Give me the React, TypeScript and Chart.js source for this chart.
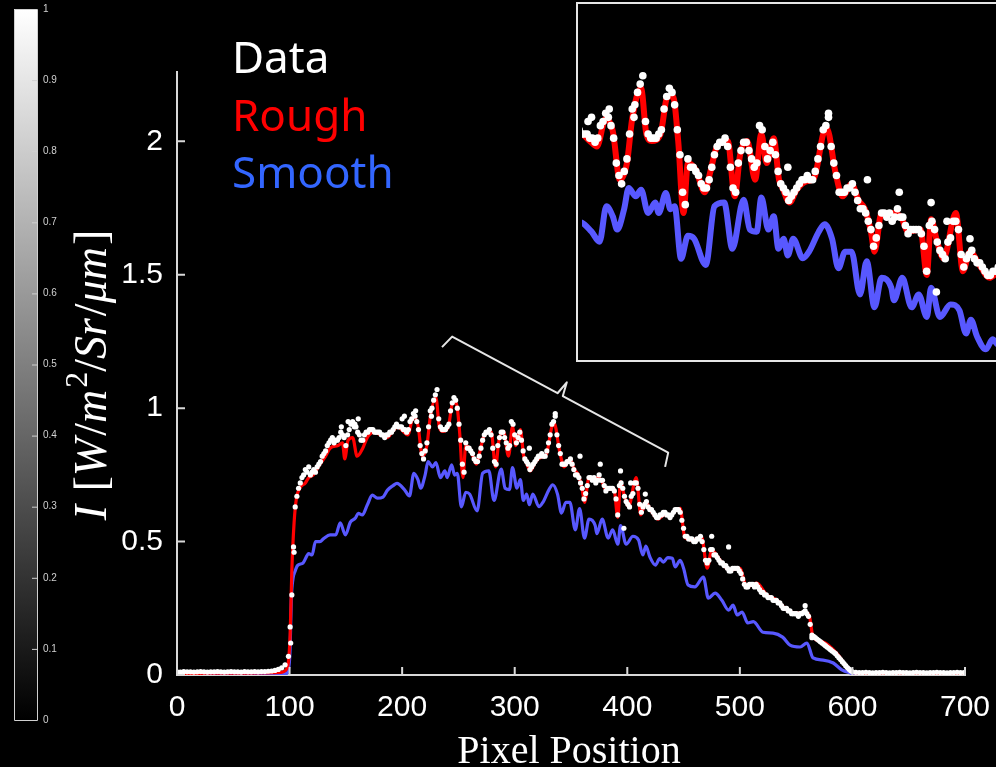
import React, { useEffect, useRef } from "react";
import { Chart, registerables } from "chart.js";

Chart.register(...registerables);

// ---------- data ----------
const roughX = [0, 20, 40, 60, 80, 92, 97, 99, 100.5, 102, 104, 106, 109, 114, 117, 121, 127, 132, 136, 143, 147, 149, 152, 156, 160, 165, 169, 175, 181, 187, 191, 196, 201, 205, 210, 214, 218, 222, 225, 230, 233, 236, 241, 245, 248, 251, 254, 256.5, 261, 266, 269, 273, 279, 283, 286, 290, 294.5, 298, 301, 305, 308, 310, 314, 318, 323, 328, 333, 335, 340, 344, 349, 353, 356.5, 360, 362, 366, 371.5, 377, 381, 388, 391.6, 394, 397, 401, 408, 412, 416, 421.5, 427, 433, 438, 444, 447, 451, 458.6, 466, 471, 475, 482.5, 491, 500, 506, 515, 524, 533, 542, 551, 558, 562, 565, 574, 586, 595, 598, 602, 620, 700];
const roughY = [0.006, 0.006, 0.007, 0.007, 0.008, 0.01, 0.02, 0.05, 0.15, 0.39, 0.57, 0.66, 0.70, 0.72, 0.74, 0.75, 0.79, 0.82, 0.85, 0.86, 0.87, 0.81, 0.88, 0.89, 0.82, 0.85, 0.89, 0.91, 0.90, 0.89, 0.91, 0.93, 0.913, 0.90, 0.967, 0.937, 0.82, 0.86, 0.967, 1.04, 0.93, 0.913, 0.93, 1.02, 1.02, 0.913, 0.74, 0.86, 0.843, 0.79, 0.836, 0.90, 0.913, 0.78, 0.88, 0.913, 0.82, 0.93, 0.86, 0.92, 0.82, 0.80, 0.765, 0.796, 0.815, 0.826, 0.93, 0.944, 0.836, 0.78, 0.81, 0.77, 0.75, 0.695, 0.647, 0.74, 0.74, 0.73, 0.695, 0.70, 0.591, 0.725, 0.678, 0.631, 0.74, 0.60, 0.647, 0.614, 0.584, 0.60, 0.60, 0.62, 0.625, 0.517, 0.506, 0.517, 0.40, 0.468, 0.43, 0.393, 0.40, 0.33, 0.344, 0.30, 0.28, 0.243, 0.232, 0.236, 0.217, 0.142, 0.124, 0.082, 0.03, 0.019, 0.008, 0.005, 0.005];

const smoothX = [0, 60, 90, 97, 99, 100.5, 101.5, 103, 105, 107, 112, 117, 120, 123, 127, 130, 136, 141, 145, 149.6, 154, 158.5, 161, 164.6, 169, 173.5, 178, 183, 187, 192, 195.4, 202, 206.5, 210.4, 214, 216.5, 220.4, 223, 227, 230, 234, 238, 240, 244, 246.6, 249, 252.6, 256.5, 260, 266.6, 271.5, 277, 281.6, 288, 291.5, 295.4, 298, 302, 305, 307.7, 310.6, 313, 316, 321.5, 325, 330.5, 333.8, 338, 341.6, 345.4, 349, 353.8, 357.6, 362, 366, 371.5, 373, 377.7, 383, 387, 391.6, 394, 399, 405, 410, 413.8, 416.5, 420, 425, 428.8, 432, 436, 440, 442.5, 447, 450, 454, 460, 467.6, 472, 478, 484, 490, 494, 497.6, 502, 507, 512, 520.6, 529.5, 538, 544.6, 553.5, 559.6, 565, 574, 583, 590.6, 598, 605, 700];
const smoothY = [0.0, 0.001, 0.002, 0.005, 0.02, 0.1, 0.28, 0.36, 0.39, 0.41, 0.42, 0.455, 0.45, 0.50, 0.50, 0.51, 0.525, 0.525, 0.57, 0.525, 0.573, 0.588, 0.606, 0.60, 0.637, 0.674, 0.663, 0.667, 0.693, 0.71, 0.718, 0.695, 0.671, 0.756, 0.732, 0.70, 0.749, 0.80, 0.78, 0.796, 0.74, 0.765, 0.74, 0.788, 0.749, 0.756, 0.63, 0.685, 0.678, 0.615, 0.756, 0.765, 0.654, 0.772, 0.70, 0.695, 0.777, 0.70, 0.732, 0.654, 0.678, 0.638, 0.678, 0.631, 0.647, 0.695, 0.713, 0.678, 0.607, 0.647, 0.647, 0.544, 0.624, 0.513, 0.584, 0.56, 0.53, 0.584, 0.513, 0.544, 0.49, 0.56, 0.49, 0.52, 0.506, 0.45, 0.483, 0.443, 0.412, 0.436, 0.423, 0.44, 0.438, 0.405, 0.43, 0.40, 0.337, 0.33, 0.367, 0.288, 0.307, 0.28, 0.243, 0.262, 0.225, 0.236, 0.195, 0.20, 0.16, 0.157, 0.142, 0.112, 0.105, 0.12, 0.064, 0.056, 0.045, 0.019, 0.008, 0.002, 0.0];

// measured samples, one every 3 pixel positions starting at 0
const dataStart = 0;
const dataStep = 3;
const dataY = [
  0.012, 0.011, 0.013, 0.012, 0.012, 0.011, 0.012, 0.013, 0.012, 0.011,
  0.012, 0.012, 0.013, 0.012, 0.011, 0.012, 0.013, 0.012, 0.012, 0.011,
  0.013, 0.012, 0.012, 0.013, 0.012, 0.013, 0.013, 0.014,
  0.015, 0.017, 0.021, 0.027, 0.038,
  0.07, 0.30, 0.63, 0.70, 0.74, 0.77, 0.78, 0.76, 0.76, 0.79,
  0.82, 0.84, 0.87, 0.89, 0.88, 0.89, 0.90, 0.86, 0.92, 0.95,
  0.93, 0.90, 0.88, 0.91, 0.92, 0.92, 0.91, 0.91, 0.90, 0.90,
  0.91, 0.92, 0.94, 0.93, 0.92, 0.91, 0.95, 0.98, 0.95, 0.86,
  0.81, 0.87, 0.99, 1.03, 1.07, 0.93, 0.92, 0.93, 0.99, 1.04,
  1.00, 0.88, 0.76, 0.85, 0.84, 0.81, 0.80, 0.85, 0.90, 0.91,
  0.90, 0.80, 0.86, 0.91, 0.89, 0.85, 0.95, 0.90, 0.89, 0.88,
  0.81, 0.79, 0.78, 0.80, 0.82, 0.83, 0.82, 0.87, 0.94, 0.98,
  0.86, 0.79, 0.79, 0.80, 0.79, 0.75, 0.74, 0.70, 0.68, 0.74,
  0.73, 0.72, 0.75, 0.73, 0.69, 0.70, 0.70, 0.66, 0.71, 0.70,
  0.65, 0.63, 0.68, 0.72, 0.64, 0.63, 0.65, 0.62, 0.61, 0.59,
  0.60, 0.61, 0.60, 0.59, 0.61, 0.62, 0.61, 0.55, 0.52, 0.51,
  0.50, 0.51, 0.52, 0.47, 0.42, 0.47, 0.45, 0.44, 0.42, 0.41,
  0.40, 0.39, 0.40, 0.40, 0.38, 0.34, 0.33, 0.34, 0.33, 0.33,
  0.31, 0.30, 0.29, 0.29, 0.28, 0.27, 0.26, 0.25, 0.24, 0.23,
  0.23, 0.22, 0.23, 0.24, 0.22, 0.15, 0.14, 0.13, 0.12, 0.11,
  0.10, 0.09, 0.08, 0.065, 0.05, 0.035, 0.022, 0.012,
  0.010, 0.009, 0.009, 0.010, 0.009, 0.008, 0.009, 0.009, 0.010, 0.009,
  0.008, 0.009, 0.009, 0.010, 0.009, 0.009, 0.008, 0.009, 0.010, 0.009,
  0.009, 0.008, 0.009, 0.009, 0.010, 0.009, 0.009, 0.008, 0.009, 0.009,
  0.010, 0.009, 0.009,
];
// interleaved samples, one every 3 pixel positions starting at 100.5
const dataMidStart = 100.5;
const dataMidY = [
  0.18, 0.48, 0.67, 0.72, 0.75, 0.76, 0.75, 0.77, 0.78, 0.80,
  0.83, 0.86, 0.88, 0.87, 0.88, 0.91, 0.89, 0.90, 0.94, 0.93,
  0.91, 0.88, 0.90, 0.91, 0.92, 0.91, 0.91, 0.90, 0.89, 0.90,
  0.91, 0.93, 0.93, 0.93, 0.92, 0.92, 0.96, 0.97, 0.92, 0.83,
  0.84, 0.93, 1.00, 1.05, 0.96, 0.92, 0.92, 0.94, 1.02, 1.03,
  0.94, 0.79, 0.87, 0.85, 0.83, 0.80, 0.82, 0.88, 0.91, 0.92,
  0.85, 0.79, 0.89, 0.91, 0.87, 0.86, 0.94, 0.87, 0.91, 0.84,
  0.80, 0.77, 0.79, 0.81, 0.82, 0.82, 0.84, 0.90, 0.95, 0.90,
  0.83, 0.79, 0.80, 0.81, 0.77, 0.75, 0.72, 0.66, 0.71, 0.74,
  0.74, 0.73, 0.73, 0.71, 0.70, 0.70, 0.69, 0.60, 0.72, 0.67,
  0.64, 0.67, 0.72, 0.70, 0.61, 0.64, 0.63, 0.62, 0.60, 0.59,
  0.60, 0.61, 0.60, 0.60, 0.62, 0.62, 0.58, 0.52, 0.51, 0.51,
  0.50, 0.51, 0.50, 0.43, 0.43, 0.47, 0.45, 0.43, 0.42, 0.41,
  0.39, 0.40, 0.40, 0.39, 0.36, 0.33, 0.34, 0.34, 0.34, 0.32,
  0.31, 0.30, 0.29, 0.28, 0.28, 0.27, 0.25, 0.25, 0.24, 0.23,
  0.23, 0.23, 0.235, 0.23, 0.19, 0.145, 0.135, 0.125, 0.115, 0.105,
  0.095, 0.085, 0.072, 0.058, 0.043, 0.028, 0.016,
];
// extra (off-line) measured samples
const dataExtraX = [101, 104, 146, 152, 158, 161, 200, 202, 212, 226, 313, 336, 358, 376, 394, 397, 403, 416, 475, 490, 558, 564];
const dataExtraY = [0.12, 0.46, 0.93, 0.95, 0.94, 0.96, 0.96, 0.97, 0.99, 0.97, 0.85, 0.97, 0.82, 0.79, 0.765, 0.55, 0.72, 0.678, 0.52, 0.48, 0.26, 0.14];

const xTicks = [0, 100, 200, 300, 400, 500, 600, 700];
const yTicks = [0, 0.5, 1, 1.5, 2];
const colorbarTicks = [0, 0.1, 0.2, 0.3, 0.4, 0.5, 0.6, 0.7, 0.8, 0.9, 1];
const legendLabels = ["Data", "Rough", "Smooth"];
const legendColors = ["#ffffff", "#ff0000", "#3366ff"];
const xTitle = "Pixel Position";
// zoom window and bracket (data coordinates)
const insetXRange = [196.6, 452.2];
const insetYRange = [0.396, 1.233];
const braceFrom = [235.4, 1.229];
const braceTo = [433.6, 0.78];

// ---------- helpers ----------
const AXIS = "#d9d9d9";
const RED = "#ff0000";
const BLUE = "#5858ff";

const toPts = (xs: number[], ys: number[]) => xs.map((x, i) => ({ x, y: ys[i] }));
const dataPts = () =>
  dataY
    .map((y, i) => ({ x: dataStart + i * dataStep, y }))
    .concat(dataMidY.map((y, i) => ({ x: dataMidStart + i * dataStep, y })))
    .concat(toPts(dataExtraX, dataExtraY));

function drawYTitle(ctx: CanvasRenderingContext2D, cy: number, baseX: number) {
  const size = 46;
  const fam = '"Liberation Serif", "DejaVu Serif", serif';
  const runs: { t: string; it?: boolean; sup?: boolean }[] = [
    { t: "I", it: true },
    { t: " [" },
    { t: "W", it: true },
    { t: "/" },
    { t: "m", it: true },
    { t: "2", sup: true },
    { t: "/" },
    { t: "Sr", it: true },
    { t: "/" },
    { t: "μm", it: true },
    { t: "]" },
  ];
  const fontOf = (r: any) =>
    r.sup ? `${Math.round(size * 0.7)}px ${fam}` : `${r.it ? "italic " : ""}${size}px ${fam}`;
  let total = 0;
  const widths = runs.map((r) => {
    ctx.font = fontOf(r);
    const w = ctx.measureText(r.t).width + (r.it ? 2 : 0);
    total += w;
    return w;
  });
  ctx.save();
  ctx.translate(baseX, cy);
  ctx.rotate(-Math.PI / 2);
  ctx.fillStyle = "#ffffff";
  ctx.textBaseline = "alphabetic";
  ctx.textAlign = "left";
  let x = -total / 2;
  runs.forEach((r, i) => {
    ctx.font = fontOf(r);
    ctx.fillText(r.t, x, r.sup ? -size * 0.42 : 0);
    x += widths[i];
  });
  ctx.restore();
}

const decorPlugin = {
  id: "decor",
  afterDraw(chart: any) {
    const ctx: CanvasRenderingContext2D = chart.ctx;
    const xs = chart.scales.x;
    const ys = chart.scales.y;
    const { left, bottom } = chart.chartArea;
    ctx.save();

    // inward tick marks
    ctx.strokeStyle = AXIS;
    ctx.lineWidth = 2;
    ctx.beginPath();
    xTicks.forEach((v) => {
      const px = xs.getPixelForValue(v);
      ctx.moveTo(px, bottom);
      ctx.lineTo(px, bottom - 8);
    });
    yTicks.forEach((v) => {
      const py = ys.getPixelForValue(v);
      ctx.moveTo(left, py);
      ctx.lineTo(left + 8, py);
    });
    ctx.stroke();

    // bracket
    const p1 = [xs.getPixelForValue(braceFrom[0]), ys.getPixelForValue(braceFrom[1])];
    const p2 = [xs.getPixelForValue(braceTo[0]), ys.getPixelForValue(braceTo[1])];
    const L = Math.hypot(p2[0] - p1[0], p2[1] - p1[1]);
    const d = [(p2[0] - p1[0]) / L, (p2[1] - p1[1]) / L];
    const n = [d[1], -d[0]];
    const h = 14;
    const mid = [(p1[0] + p2[0]) / 2, (p1[1] + p2[1]) / 2];
    const P = (b: number[], a: number, c: number) => [b[0] + n[0] * a + d[0] * c, b[1] + n[1] * a + d[1] * c];
    const pts = [p1, P(p1, h, 4), P(mid, h, -3), P(mid, 2 * h, 0), P(mid, h, 3), P(p2, h, -4), p2];
    ctx.strokeStyle = "#e6e6e6";
    ctx.lineWidth = 2;
    ctx.lineJoin = "round";
    ctx.beginPath();
    pts.forEach((p, i) => (i ? ctx.lineTo(p[0], p[1]) : ctx.moveTo(p[0], p[1])));
    ctx.stroke();

    // legend text
    ctx.font = '44px "Noto Sans", "Open Sans", sans-serif';
    ctx.textAlign = "left";
    ctx.textBaseline = "alphabetic";
    legendLabels.forEach((t, i) => {
      ctx.fillStyle = legendColors[i];
      ctx.fillText(t, 232, 73 + i * 57.5);
    });

    // x title
    ctx.font = '40px "Liberation Serif", "DejaVu Serif", serif';
    ctx.fillStyle = "#ffffff";
    ctx.textAlign = "center";
    ctx.fillText(xTitle, 569, 763);

    // y title
    drawYTitle(ctx, 375, 106);

    // colorbar
    const cbL = 14, cbR = 37, cbT = 9, cbB = 720;
    const g = ctx.createLinearGradient(0, cbT, 0, cbB);
    g.addColorStop(0, "#ffffff");
    g.addColorStop(1, "#000000");
    ctx.fillStyle = g;
    ctx.fillRect(cbL, cbT, cbR - cbL, cbB - cbT);
    ctx.strokeStyle = "#d0d0d0";
    ctx.lineWidth = 1;
    ctx.strokeRect(cbL + 0.5, cbT + 0.5, cbR - cbL, cbB - cbT);
    ctx.font = '10px "Liberation Sans", Arial, sans-serif';
    ctx.fillStyle = "#d0d0d0";
    ctx.textAlign = "left";
    ctx.textBaseline = "middle";
    ctx.beginPath();
    colorbarTicks.forEach((v) => {
      const y = cbB - v * (cbB - cbT);
      ctx.moveTo(cbR, y + 0.5);
      ctx.lineTo(cbR - 5, y + 0.5);
      ctx.fillText(String(v), cbR + 6, y);
    });
    ctx.stroke();

    ctx.restore();
  },
};

const tickFont = { family: '"Liberation Sans", Arial, sans-serif', size: 30 };

export default function App() {
  const mainRef = useRef<HTMLCanvasElement>(null);
  const insetRef = useRef<HTMLCanvasElement>(null);

  useEffect(() => {
    const mk = (lw: number, r: number) => [
      {
        label: legendLabels[0],
        data: dataPts(),
        showLine: false,
        pointRadius: r,
        pointBackgroundColor: "#ffffff",
        pointBorderWidth: 0,
        order: 0,
      },
      {
        label: legendLabels[1],
        data: toPts(roughX, roughY),
        showLine: true,
        borderColor: RED,
        borderWidth: lw,
        pointRadius: 0,
        cubicInterpolationMode: "monotone",
        order: 1,
      },
      {
        label: legendLabels[2],
        data: toPts(smoothX, smoothY),
        showLine: true,
        borderColor: BLUE,
        borderWidth: lw,
        pointRadius: 0,
        cubicInterpolationMode: "monotone",
        order: 2,
      },
    ];

    const main = new Chart(mainRef.current as HTMLCanvasElement, {
      type: "scatter",
      data: { datasets: mk(3.2, 2.6) as any },
      options: {
        animation: false,
        responsive: false,
        maintainAspectRatio: false,
        layout: { padding: { top: 72, right: 31, left: 0, bottom: 0 } },
        plugins: { legend: { display: false }, tooltip: { enabled: false } },
        scales: {
          x: {
            type: "linear",
            min: 0,
            max: 700,
            afterBuildTicks: (s: any) => {
              s.ticks = xTicks.map((value) => ({ value }));
            },
            afterFit: (s: any) => {
              s.height = 92;
              s.paddingLeft = 0;
              s.paddingRight = 0;
            },
            grid: { display: false, drawTicks: false },
            border: { display: true, color: AXIS, width: 2 },
            ticks: {
              color: "#ffffff",
              font: tickFont,
              padding: 15,
              maxRotation: 0,
              autoSkip: false,
              callback: (v: any) => String(v),
            },
          },
          y: {
            type: "linear",
            min: 0,
            max: 2.26,
            afterBuildTicks: (s: any) => {
              s.ticks = yTicks.map((value) => ({ value }));
            },
            afterFit: (s: any) => {
              s.width = 177;
              s.paddingTop = 0;
              s.paddingBottom = 0;
            },
            grid: { display: false, drawTicks: false },
            border: { display: true, color: AXIS, width: 2 },
            ticks: {
              color: "#ffffff",
              font: tickFont,
              padding: 14,
              autoSkip: false,
              callback: (v: any) => String(v),
            },
          },
        },
      },
      plugins: [decorPlugin],
    });

    const inset = new Chart(insetRef.current as HTMLCanvasElement, {
      type: "scatter",
      data: { datasets: mk(6, 3.8) as any },
      options: {
        animation: false,
        responsive: false,
        maintainAspectRatio: false,
        layout: { padding: 0 },
        plugins: { legend: { display: false }, tooltip: { enabled: false } },
        scales: {
          x: { type: "linear", min: insetXRange[0], max: insetXRange[1], display: false },
          y: { type: "linear", min: insetYRange[0], max: insetYRange[1], display: false },
        },
      },
    });

    return () => {
      main.destroy();
      inset.destroy();
    };
  }, []);

  return (
    <div
      style={{
        position: "fixed",
        left: 0,
        top: 0,
        width: 996,
        height: 767,
        background: "#000",
        overflow: "hidden",
      }}
    >
      <canvas
        ref={mainRef}
        width={996}
        height={767}
        style={{ position: "absolute", left: 0, top: 0, width: 996, height: 767 }}
      />
      <div
        style={{
          position: "absolute",
          left: 576,
          top: 2,
          width: 460,
          height: 356,
          borderTop: "2px solid #e6e6e6",
          borderBottom: "2px solid #e6e6e6",
          borderLeft: "2px solid #e6e6e6",
          background: "#000",
        }}
      >
        <canvas ref={insetRef} width={460} height={356} style={{ display: "block", width: 460, height: 356 }} />
      </div>
    </div>
  );
}
